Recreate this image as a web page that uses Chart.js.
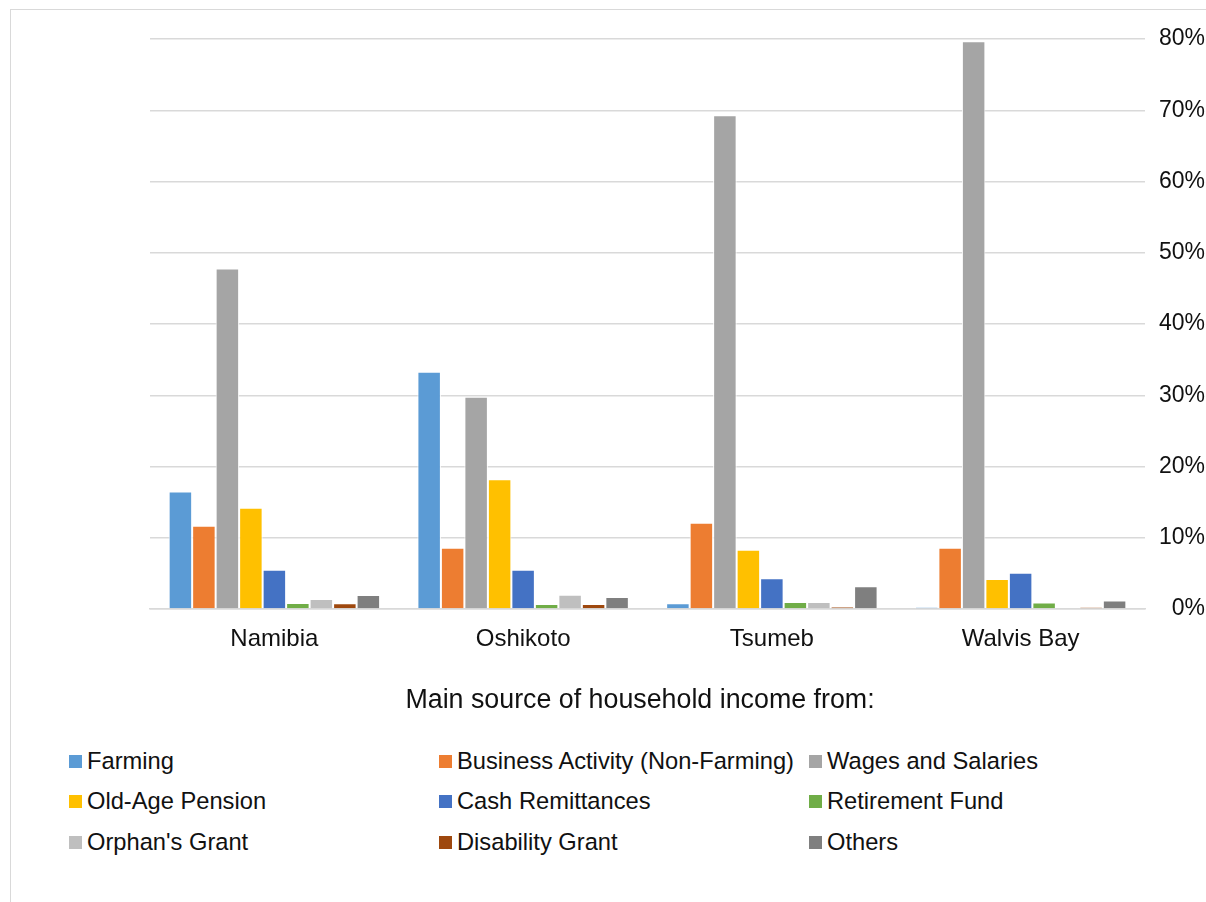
<!DOCTYPE html>
<html>
<head>
<meta charset="utf-8">
<title>Main source of household income</title>
<script src="https://cdn.jsdelivr.net/npm/chart.js@4/dist/chart.umd.min.js"></script>
<style>
  html, body { margin: 0; padding: 0; background: #fff; overflow: hidden; }
  body { width: 1206px; height: 902px; position: relative; font-family: "Liberation Sans", Arial, sans-serif; }
  #frame { position: absolute; left: 10px; top: 9px; width: 1260px; height: 960px; border: 1px solid #d9d9d9; }
  #wrap { position: absolute; left: 0; top: 0; width: 1206px; height: 720px; }
  /* axis title is centred on the whole chart frame (which runs past the page edge) */
  #xtitle { position: absolute; left: 340px; width: 600px; top: 683px; text-align: center; font-size: 26.8px; line-height: 32px; color: #111; white-space: nowrap; }
  #legend { position: absolute; left: 69px; top: 741px; display: grid; grid-template-columns: 370px 370px 370px; row-gap: 0; }
  .item { display: flex; align-items: center; height: 40.5px; font-size: 23.7px; color: #111; white-space: nowrap; }
  .swatch { width: 13px; height: 13px; margin-right: 5px; flex: none; }
</style>
</head>
<body>
<div id="frame"></div>
<div id="wrap"><canvas id="chart" width="1206" height="720"></canvas></div>
<div id="xtitle">Main source of household income from:</div>
<div id="legend"></div>
<script>
// ─── DATA ─────────────────────────────────────────────────────────────────────
const regions = ['Namibia', 'Oshikoto', 'Tsumeb', 'Walvis Bay'];

const farming     = [16.5, 33.3, 0.8, 0.25];
const business    = [11.7, 8.6, 12.1, 8.6];
const wages       = [47.8, 29.8, 69.3, 79.7];
const pension     = [14.2, 18.2, 8.3, 4.2];
const remittances = [5.5, 5.5, 4.3, 5.1];
const retirement  = [0.85, 0.7, 1.0, 0.9];
const orphan      = [1.4, 2.0, 1.0, 0];
const disability  = [0.8, 0.7, 0.35, 0.25];
const others      = [1.95, 1.7, 3.2, 1.2];

const yTicks = [0, 10, 20, 30, 40, 50, 60, 70, 80];

// ─── SERIES ───────────────────────────────────────────────────────────────────
const SERIES = [
  { label: 'Farming',                          data: farming,     color: '#5b9bd5' },
  { label: 'Business Activity (Non-Farming)',  data: business,    color: '#ed7d31' },
  { label: 'Wages and Salaries',               data: wages,       color: '#a5a5a5' },
  { label: 'Old-Age Pension',                  data: pension,     color: '#ffc000' },
  { label: 'Cash Remittances',                 data: remittances, color: '#4472c4' },
  { label: 'Retirement Fund',                  data: retirement,  color: '#70ad47' },
  { label: "Orphan's Grant",                   data: orphan,      color: '#bfbfbf' },
  { label: 'Disability Grant',                 data: disability,  color: '#9e480e' },
  { label: 'Others',                           data: others,      color: '#7f7f7f' }
];

const FONT = '"Liberation Sans", Arial, sans-serif';
const GRID = '#d9d9d9';

const chart = new Chart(document.getElementById('chart'), {
  type: 'bar',
  data: {
    labels: regions,
    datasets: SERIES.map(s => ({
      label: s.label,
      data: s.data,
      backgroundColor: s.color,
      borderColor: '#ffffff',
      borderWidth: 1,
      borderSkipped: 'bottom',
      categoryPercentage: 0.85,
      barPercentage: 1
    }))
  },
  options: {
    responsive: false,
    animation: false,
    layout: { padding: { left: 150, top: 39, right: 1, bottom: 0 } },
    plugins: { legend: { display: false }, tooltip: { enabled: false } },
    scales: {
      x: {
        grid: { display: false, drawTicks: false },
        border: { display: true, color: GRID, width: 1.5 },
        ticks: { color: '#111', font: { family: FONT, size: 24 }, padding: 16 },
        afterFit: scale => { scale.height = 111; }
      },
      y: {
        position: 'right',
        min: 0,
        max: 80,
        afterBuildTicks: scale => { scale.ticks = yTicks.map(v => ({ value: v })); },
        grid: { color: GRID, lineWidth: 1.5, drawTicks: false },
        border: { display: false },
        ticks: {
          color: '#111',
          font: { family: FONT, size: 23 },
          padding: 15,
          crossAlign: 'far',
          callback: v => v + '%'
        },
        afterFit: scale => { scale.width = 60; }
      }
    }
  }
});

// ─── LEGEND (3-column grid, like the source) ─────────────────────────────────
const legendEl = document.getElementById('legend');
chart.data.datasets.forEach(ds => {
  const item = document.createElement('div');
  item.className = 'item';
  const sw = document.createElement('span');
  sw.className = 'swatch';
  sw.style.background = ds.backgroundColor;
  item.appendChild(sw);
  item.appendChild(document.createTextNode(ds.label));
  legendEl.appendChild(item);
});
</script>
</body>
</html>
